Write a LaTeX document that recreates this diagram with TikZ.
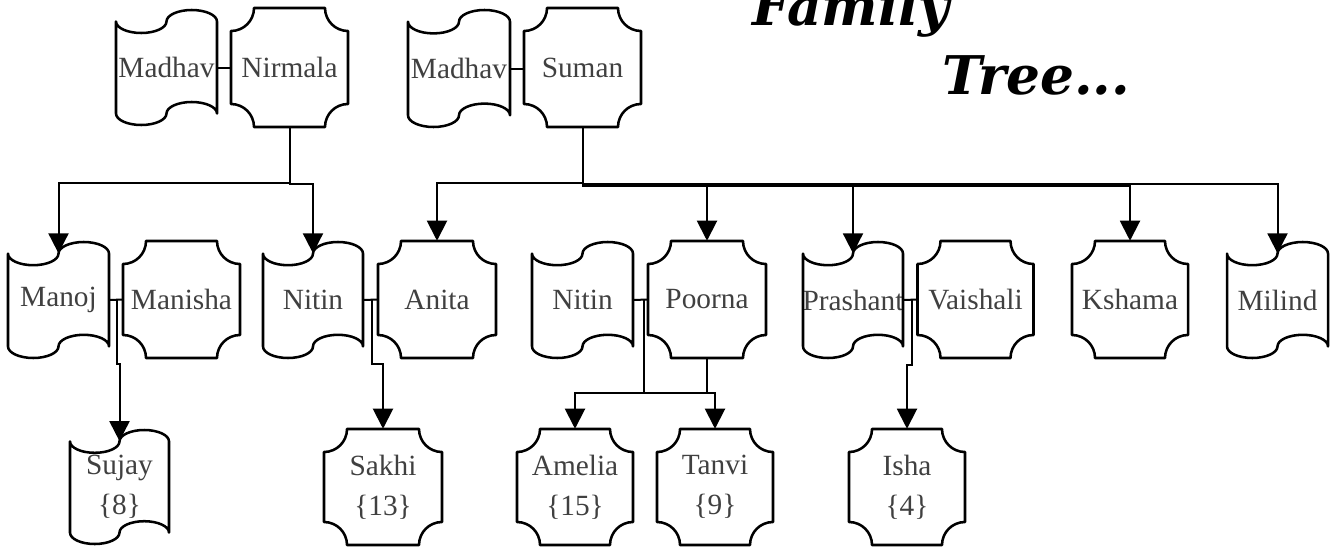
\documentclass[tikz,border=0pt]{standalone}
\usepackage{fontspec}
\setmainfont{Liberation Serif}
\newfontfamily\titlefont{DejaVu Serif}
\usetikzlibrary{arrows.meta}
\definecolor{txtgray}{HTML}{404040}
\tikzset{
  shapeline/.style={line width=1.9pt, line join=round},
  txt/.style={inner sep=0pt, align=center, text=txtgray, font=\fontsize{22}{30}\selectfont},
  conn/.style={line width=1.5pt},
  arr/.style={conn, -{Triangle[width=15pt,length=15pt]}},
  titletxt/.style={inner sep=0pt, anchor=base west, font=\titlefont\bfseries\itshape\fontsize{40}{40}\selectfont},
}
% tape shape: name, cx, cy, w, h, text
\newcommand\tapeshape[6]{%
  \node[txt, minimum width=#4*0.75pt, minimum height=0.8*#5*0.75pt] (#1) at (#2,#3) {#6};
  \draw[shapeline, shift={(#1.center)}] (-#4/2, -0.4*#5)
    arc[start angle=180, end angle=0, x radius=#4/4, y radius=#5/10]
    arc[start angle=180, end angle=360, x radius=#4/4, y radius=#5/10]
    -- (#4/2, 0.4*#5)
    arc[start angle=0, end angle=-180, x radius=#4/4, y radius=#5/10]
    arc[start angle=0, end angle=180, x radius=#4/4, y radius=#5/10]
    -- cycle;
}
% plaque shape: name, cx, cy, w, h, text
\newcommand\plaqueshape[6]{%
  \node[txt, minimum width=#4*0.75pt, minimum height=#5*0.75pt] (#1) at (#2,#3) {#6};
  \draw[shapeline, shift={(#1.center)}] (-#4/2, -#5/2+23)
    arc[start angle=90, end angle=0, radius=23]
    -- (#4/2-23, -#5/2)
    arc[start angle=180, end angle=90, radius=23]
    -- (#4/2, #5/2-23)
    arc[start angle=270, end angle=180, radius=23]
    -- (-#4/2+23, #5/2)
    arc[start angle=0, end angle=-90, radius=23]
    -- cycle;
}
\begin{document}
\begin{tikzpicture}[x=0.75pt,y=-0.75pt]
\useasboundingbox (0,0) rectangle (1334,546);

% title
\node[titletxt] (t1) at (752,25) {Family};
\node[titletxt] (t2) at (942,94) {Tree...};

% row 1
\tapeshape{madhavA}{166.5}{67.5}{101}{115}{Madhav}
\plaqueshape{nirmala}{289.5}{67.5}{117}{119}{Nirmala}
\tapeshape{madhavB}{459}{68.5}{102}{117}{Madhav}
\plaqueshape{suman}{582.5}{67.5}{117}{119}{Suman}

% row 2
\tapeshape{manoj}{58.5}{300}{101}{116}{Manoj}
\plaqueshape{manisha}{181.5}{299.5}{117}{117}{Manisha}
\tapeshape{nitinA}{313}{300}{100}{116}{Nitin}
\plaqueshape{anita}{437}{299.5}{118}{117}{Anita}
\tapeshape{nitinB}{582.5}{300}{101}{116}{Nitin}
\plaqueshape{poorna}{707}{299.5}{118}{117}{Poorna}
\tapeshape{prashant}{853}{300}{100}{116}{Prashant}
\plaqueshape{vaishali}{975.5}{299.5}{116}{117}{Vaishali}
\plaqueshape{kshama}{1130}{299.5}{116}{117}{Kshama}
\tapeshape{milind}{1277.5}{300}{101}{116}{Milind}

% row 3
\tapeshape{sujay}{119.5}{487}{99}{114}{Sujay\\\{8\}}
\plaqueshape{sakhi}{383}{487}{118}{116}{Sakhi\\\{13\}}
\plaqueshape{amelia}{575}{487}{116}{116}{Amelia\\\{15\}}
\plaqueshape{tanvi}{715}{487}{116}{116}{Tanvi\\\{9\}}
\plaqueshape{isha}{907}{487}{116}{116}{Isha\\\{4\}}

% couple links
\draw[conn] (madhavA.east) -- (nirmala.west);
\draw[conn] (madhavB.east) -- (madhavB.east -| suman.west);
\draw[conn] (manoj.east) -- coordinate[pos=0.55] (l1) (manisha.west);
\draw[conn] (nitinA.east) -- coordinate[pos=0.6] (l2) (anita.west);
\draw[conn] (nitinB.east) -- coordinate[pos=0.75] (l3) (poorna.west);
\draw[conn] (prashant.east) -- coordinate[pos=0.6] (l4) (vaishali.west);

% children of Nirmala
\draw[arr] (nirmala.south) -- ++(0,56) -| (manoj.north);
\draw[arr] (nirmala.south) -- ++(0,57) -| (nitinA.north);

% children of Suman
\draw[arr] (suman.south) -- ++(0,56) -| (anita.north);
\draw[arr] (suman.south) -- ++(0,57) -| (poorna.north);
\draw[arr] (suman.south) -- ++(0,57.8) -| (prashant.north);
\draw[arr] (suman.south) -- ++(0,58.4) -| (kshama.north);
\draw[arr] (suman.south) -- ++(0,57) -| (milind.north);

% grandchildren
\draw[arr] (l1) -- ++(0,64) -| (sujay.north);
\draw[arr] (l2) -- ++(0,64) -| (sakhi.north);
\draw[arr] (l3) -- ++(0,93) -| (tanvi.north);
\draw[arr] (poorna.south) -- ++(0,35) -| (amelia.north);
\draw[arr] (l4) -- ++(0,65) -| (isha.north);
\end{tikzpicture}
\end{document}
